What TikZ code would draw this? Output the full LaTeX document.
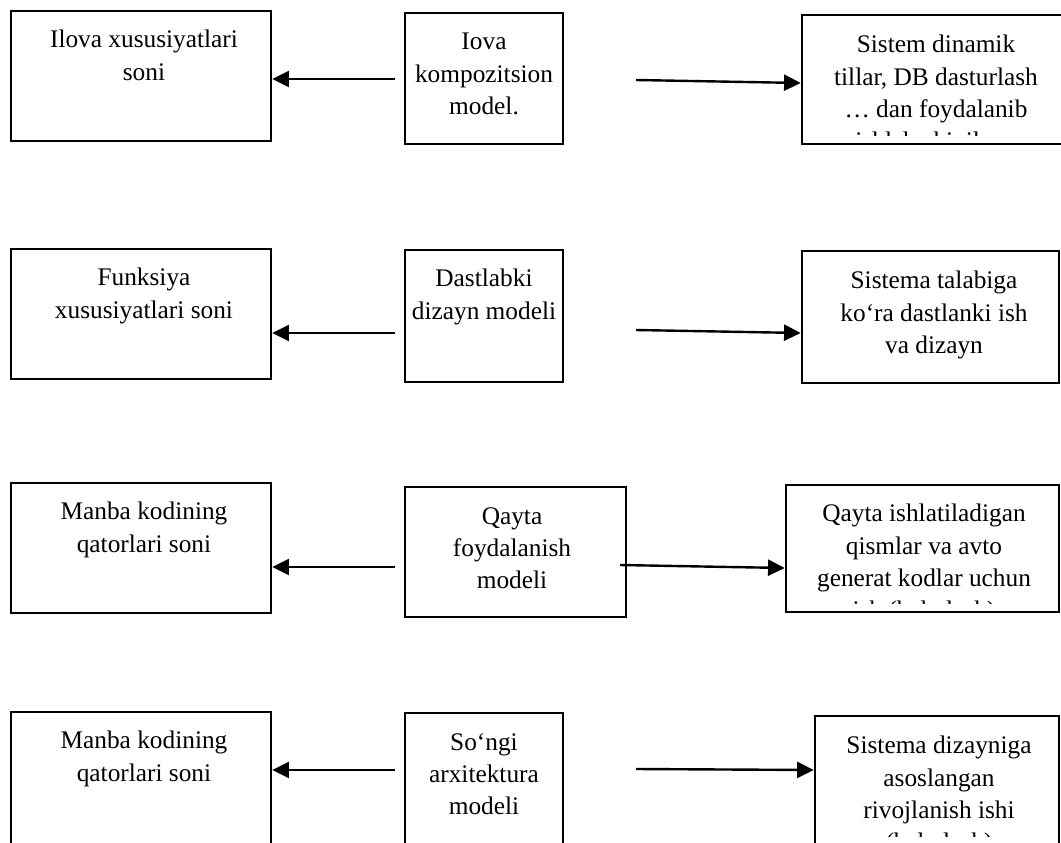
\documentclass[tikz,border=0pt]{standalone}
\usepackage{fontspec}
\setmainfont{Liberation Serif}
\usetikzlibrary{arrows.meta,fit}
\begin{document}
\begin{tikzpicture}[x=0.75pt,y=-0.75pt,
  box/.style={draw=black, line width=1.9pt, inner sep=0pt},
  txt/.style={align=center, inner sep=0pt, anchor=north,
    font=\fontsize{19pt}{24.2pt}\selectfont},
  arr/.style={line width=1.8pt, -{Triangle[length=12.5pt,width=12pt]}}]
\useasboundingbox (0,0) rectangle (1061,843);

% ---------- row 1 ----------
\node[box, fit={(11,11) (271,141)}] (l1) {};
\node[box, fit={(405,13) (563,144)}] (m1) {};
\node[box, fit={(802,15) (1064,144)}] (r1) {};
\node[txt] (l1t) at (144,30) {Ilova xususiyatlari\\soni};
\node[txt] (m1t) at (484,33) {Iova\\kompozitsion\\model.};
\begin{scope}
  \clip (802,15) rectangle (1064,135);
  \node[txt] (r1t) at (936,35) {Sistem dinamik\\tillar, DB dasturlash\\… dan foydalanib\\ishlab chiqilgan};
\end{scope}
\coordinate (a1l) at (395,79);
\coordinate (a1r) at (636,80);
\draw[arr] (a1l) -- (l1.east |- a1l);
\draw[arr] (a1r) -- ([yshift=-2.25pt]r1.west |- a1r);

% ---------- row 2 ----------
\node[box, fit={(11,249) (271,379)}] (l2) {};
\node[box, fit={(405,250) (563,382)}] (m2) {};
\node[box, fit={(802,251) (1059,383)}] (r2) {};
\node[txt] (l2t) at (144,268) {Funksiya\\xususiyatlari soni};
\node[txt] (m2t) at (484,269) {Dastlabki\\dizayn modeli};
\node[txt] (r2t) at (934,271) {Sistema talabiga\\ko‘ra dastlanki ish\\va dizayn};
\coordinate (a2l) at (395,333);
\coordinate (a2r) at (636,330);
\draw[arr] (a2l) -- (l2.east |- a2l);
\draw[arr] (a2r) -- ([yshift=-2.25pt]r2.west |- a2r);

% ---------- row 3 ----------
\node[box, fit={(11,483) (271,613)}] (l3) {};
\node[box, fit={(405,487) (626,617)}] (m3) {};
\node[box, fit={(786,485) (1059,612)}] (r3) {};
\node[txt] (l3t) at (144,502) {Manba kodining\\qatorlari soni};
\node[txt] (m3t) at (512,507) {Qayta\\foydalanish\\modeli};
\begin{scope}
  \clip (786,485) rectangle (1059,603);
  \node[txt] (r3t) at (924,504) {Qayta ishlatiladigan\\qismlar va avto\\generat kodlar uchun\\ish (baholash)};
\end{scope}
\coordinate (a3l) at (395,567);
\coordinate (a3r) at (620,565);
\draw[arr] (a3l) -- (l3.east |- a3l);
\draw[arr] (a3r) -- ([yshift=-2.25pt]r3.west |- a3r);

% ---------- row 4 ----------
\node[box, fit={(11,712) (271,852)}] (l4) {};
\node[box, fit={(405,713) (563,852)}] (m4) {};
\node[box, fit={(815,716) (1059,852)}] (r4) {};
\node[txt] (l4t) at (144,731) {Manba kodining\\qatorlari soni};
\node[txt] (m4t) at (484,733) {So‘ngi\\arxitektura\\modeli};
\begin{scope}
  \clip (815,716) rectangle (1059,836);
  \node[txt] (r4t) at (939,736) {Sistema dizayniga\\asoslangan\\rivojlanish ishi\\(baholash)};
\end{scope}
\coordinate (a4l) at (395,770);
\coordinate (a4r) at (636,769);
\draw[arr] (a4l) -- (l4.east |- a4l);
\draw[arr] (a4r) -- ([yshift=-0.75pt]r4.west |- a4r);
\end{tikzpicture}
\end{document}
